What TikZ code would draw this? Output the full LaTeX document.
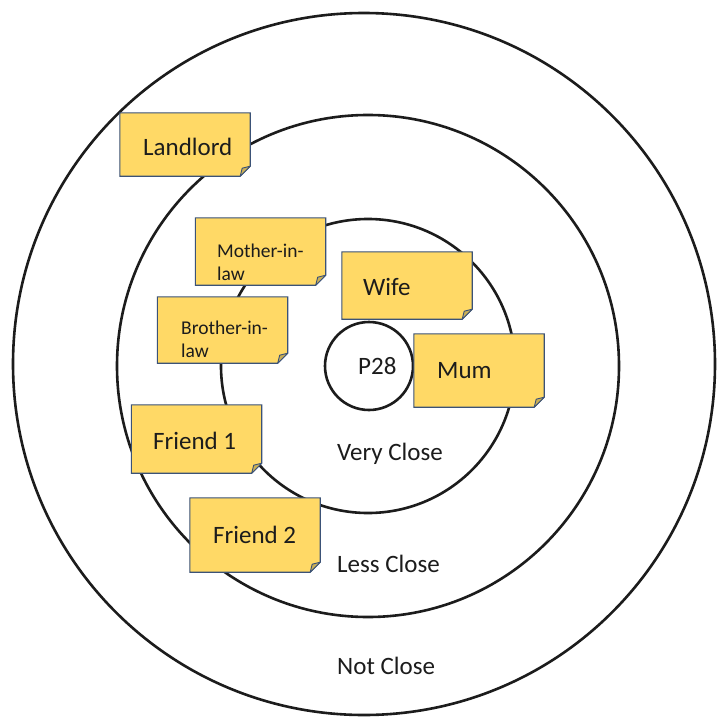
\documentclass[tikz,border=0pt]{standalone}
\usepackage{fontspec}
\setmainfont{Carlito}
\definecolor{notefill}{HTML}{FFD966}
\definecolor{noteedge}{HTML}{3B5277}
\definecolor{notefoldc}{HTML}{C9AF57}
\definecolor{ink}{HTML}{1C1C1C}

% sticky note: yellow sheet with a folded bottom-right corner
\newcommand\notesheet[1]{%
  \path[notebody] (#1.north west) -- (#1.north east) -- ([yshift=10pt]#1.south east)
    -- ([xshift=-10pt]#1.south east) -- (#1.south west) -- cycle;
  \path[notefold] ([yshift=10pt]#1.south east) -- ([xshift=-10pt]#1.south east)
    -- ([xshift=-8pt,yshift=8pt]#1.south east) -- cycle;
}

\begin{document}
\begin{tikzpicture}[x=1pt,y=-1pt,
  ring/.style={draw=ink, line width=2.6pt},
  notearea/.style={rectangle, inner sep=0pt, minimum width=130pt},
  notebody/.style={fill=notefill, draw=noteedge, line width=1.1pt, line join=miter},
  notefold/.style={fill=notefoldc, draw=noteedge, line width=0.9pt, line join=round},
  bigtext/.style={font=\fontsize{25}{30}\selectfont, text=ink, inner sep=0pt, anchor=base west},
  smalltext/.style={font=\fontsize{19.5}{23}\selectfont, text=ink, inner sep=0pt,
    align=left, anchor=base west}]

\fill[white] (0,0) rectangle (716,717);
\useasboundingbox (0,0) rectangle (716,717);

% closeness rings
\draw[ring] (364,364) circle[radius=351];
\draw[ring] (368,366) circle[radius=251];
\draw[ring] (368,366) circle[radius=147];
\node[ring, circle, inner sep=0pt, minimum size=88pt] (self) at (369,366) {};
\node[bigtext] (selflabel) at (358,374) {P28};

% zone labels
\node[bigtext] (veryclose) at (337,460) {Very Close};
\node[bigtext] (lessclose) at (337,572) {Less Close};
\node[bigtext] (notclose) at (337,674) {Not Close};

% people (two-line labels are anchored on the baseline of their last line)
\node[notearea, minimum height=63pt] (landlord) at (185,144.5) {};
\notesheet{landlord}
\node[bigtext] (landlordtxt) at (143,155) {Landlord};

\node[notearea, minimum height=67pt] (motherinlaw) at (260.5,251.5) {};
\notesheet{motherinlaw}
\node[smalltext] (motherinlawtxt) at (217,280) {Mother-in-\\law};

\node[notearea, minimum height=66pt] (brotherinlaw) at (222.5,330) {};
\notesheet{brotherinlaw}
\node[smalltext] (brotherinlawtxt) at (181,357) {Brother-in-\\law};

\node[notearea, minimum height=67pt] (wife) at (407,285.5) {};
\notesheet{wife}
\node[bigtext] (wifetxt) at (363,295) {Wife};

\node[notearea, minimum height=73pt] (mum) at (479,370.5) {};
\notesheet{mum}
\node[bigtext] (mumtxt) at (437,378) {Mum};

\node[notearea, minimum height=68pt] (friendone) at (196.5,439) {};
\notesheet{friendone}
\node[bigtext] (friendonetxt) at (153,449) {Friend 1};

\node[notearea, minimum height=74pt] (friendtwo) at (255,535) {};
\notesheet{friendtwo}
\node[bigtext] (friendtwotxt) at (213,543) {Friend 2};

\end{tikzpicture}
\end{document}
